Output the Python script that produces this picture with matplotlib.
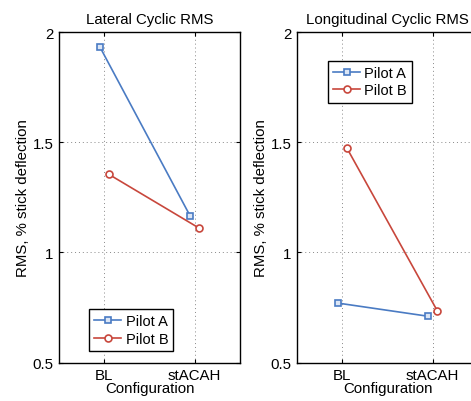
import matplotlib
matplotlib.use("Agg")
import matplotlib.pyplot as plt

plt.rcParams['font.family'] = ['Liberation Sans', 'DejaVu Sans']
plt.rcParams['font.size'] = 10.8

configs = ["BL", "stACAH"]
x_pos = [1, 2]
shift = 0.05  # pilots drawn slightly apart so markers don't overlap

lat_pilot_a = [1.935, 1.165]
lat_pilot_b = [1.355, 1.11]
lon_pilot_a = [0.77, 0.71]
lon_pilot_b = [1.475, 0.735]

blue = "#4a7bc3"
red = "#c8473c"

fig = plt.figure(figsize=(4.71, 4.02), dpi=100)
W, H = 471.0, 402.0

def make_axes(left_px):
    return fig.add_axes([left_px / W, 1 - 363.5 / H, 181 / W, (363.5 - 33.3) / H])

def style(ax, title, loc, anchor):
    ax.set_xlim(0.5, 2.5)
    ax.set_ylim(0.5, 2.0)
    ax.set_xticks(x_pos)
    ax.set_xticklabels(configs)
    ax.set_yticks([0.5, 1, 1.5, 2])
    ax.set_yticklabels(["0.5", "1", "1.5", "2"])
    ax.grid(True, linestyle=(0, (1, 3)), color="#888888", linewidth=0.7)
    ax.tick_params(direction="in", top=True, right=True, length=3, width=0.8, pad=4)
    for sp in ax.spines.values():
        sp.set_linewidth(1.0)
    ax.set_title(title, fontsize=10.8, pad=7)
    ax.set_xlabel("Configuration", labelpad=-1)
    ax.set_ylabel("RMS, % stick deflection", labelpad=2)
    leg = ax.legend(loc=loc, bbox_to_anchor=anchor, fancybox=False, framealpha=1,
                    edgecolor="black", handlelength=1.85, borderpad=0.35,
                    labelspacing=0.25, handletextpad=0.3, borderaxespad=0,
                    fontsize=10.5)
    leg.get_frame().set_linewidth(1.0)

def draw(ax, a, b):
    ax.plot([x - shift for x in x_pos], a, color=blue, lw=1.2, marker="s", ms=4.5,
            mfc="#dce6f5", mec=blue, mew=1.2, label="Pilot A")
    ax.plot([x + shift for x in x_pos], b, color=red, lw=1.2, marker="o", ms=5,
            mfc="white", mec=red, mew=1.2, label="Pilot B")

ax1 = make_axes(59)
draw(ax1, lat_pilot_a, lat_pilot_b)
style(ax1, "Lateral Cyclic RMS", "lower left", (0.166, 0.035))

ax2 = make_axes(297)
draw(ax2, lon_pilot_a, lon_pilot_b)
style(ax2, "Longitudinal Cyclic RMS", "upper left", (0.171, 0.914))

fig.savefig("out.png", dpi=100)
